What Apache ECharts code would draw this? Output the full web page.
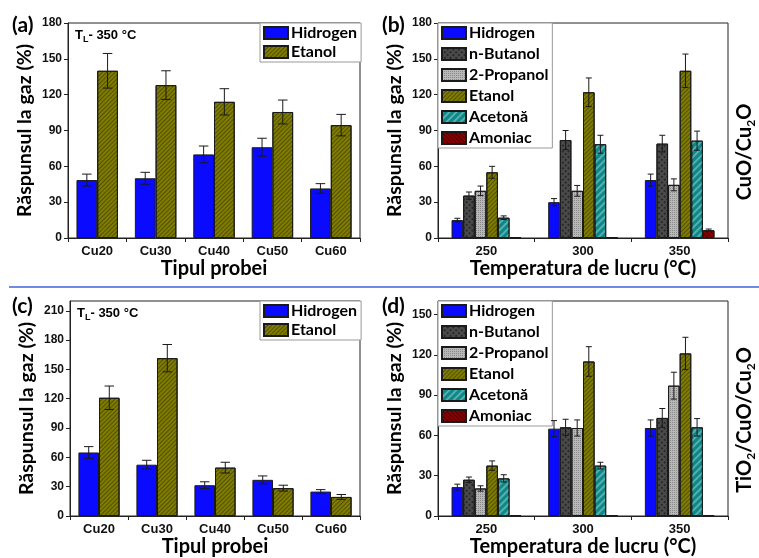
<!DOCTYPE html>
<html><head><meta charset="utf-8">
<script src="https://cdn.jsdelivr.net/npm/echarts@6/dist/echarts.min.js"></script>
<style>html,body{margin:0;padding:0;background:#fff}#c{width:759px;height:558px}</style>
</head><body><div id="c"></div>
<script>
// ---- categories ----
const samples = ['Cu20', 'Cu30', 'Cu40', 'Cu50', 'Cu60'];
const temps = ['250', '300', '350'];
const gasesAC = ['Hidrogen', 'Etanol'];
const gasesBD = ['Hidrogen', 'n-Butanol', '2-Propanol', 'Etanol', 'Acetonă', 'Amoniac'];

// ---- panel (a): CuO/Cu2O, T_L 350 °C ----
const aHidrogen = [48.5, 50, 70, 76, 41.5];
const aHidrogenErr = [5, 5, 7, 7.5, 4];
const aEtanol = [140, 128, 114, 105.5, 94.5];
const aEtanolErr = [14.5, 12, 11, 10, 9];

// ---- panel (b): CuO/Cu2O vs temperature ----
const bHidrogen = [15, 30, 48.5];
const bHidrogenErr = [1.5, 3, 5];
const bButanol = [35.5, 82, 79];
const bButanolErr = [3, 8, 7];
const bPropanol = [39.5, 39.5, 44.5];
const bPropanolErr = [4, 4.5, 5];
const bEtanol = [55, 122, 140];
const bEtanolErr = [5, 12, 14];
const bAcetona = [17, 78.5, 81.5];
const bAcetonaErr = [1.5, 7.5, 8];
const bAmoniac = [0.4, 0.4, 6.5];
const bAmoniacErr = [0, 0, 1];

// ---- panel (c): TiO2/CuO/Cu2O, T_L 350 °C ----
const cHidrogen = [65, 52.5, 31.5, 37, 25];
const cHidrogenErr = [6, 4.5, 3.5, 4, 2];
const cEtanol = [121, 161.5, 49.5, 28.5, 19.5];
const cEtanolErr = [12, 14, 5.5, 3, 2.5];

// ---- panel (d): TiO2/CuO/Cu2O vs temperature ----
const dHidrogen = [21.5, 65, 65.5];
const dHidrogenErr = [2.2, 6, 6];
const dButanol = [27, 66, 73];
const dButanolErr = [2, 6, 7];
const dPropanol = [20.5, 65.5, 97];
const dPropanolErr = [2, 6, 10];
const dEtanol = [37.5, 115, 121];
const dEtanolErr = [3.5, 11, 12];
const dAcetona = [28, 37.5, 66];
const dAcetonaErr = [2.7, 2.5, 6.5];
const dAmoniac = [0.6, 0.6, 0.6];
const dAmoniacErr = [0, 0, 0];

// ---- axis ranges ----
const yMaxA = 180, yMaxB = 180, yMaxC = 220, yMaxD = 160, yStep = 30;

const TF = 'Lato, "Open Sans", sans-serif';
const LF = '"Liberation Sans", Arial, sans-serif';

const styles = {
  'Hidrogen': { color: '#0a0aff' },
  'n-Butanol': { color: '#4a4a4a', decal: { symbol: 'rect', symbolSize: 1, dashArrayX: [2, 2], dashArrayY: [2, 2], rotation: Math.PI / 4, color: 'rgba(0,0,0,0.45)' } },
  '2-Propanol': { color: '#b8b8b8', decal: { symbol: 'rect', symbolSize: 1, dashArrayX: [1, 1], dashArrayY: [1, 1], color: 'rgba(0,0,0,0.25)' } },
  'Etanol': { color: '#7f7c00', decal: { symbol: 'rect', symbolSize: 1, dashArrayX: [1, 0], dashArrayY: [1, 2], rotation: -Math.PI / 4, color: 'rgba(0,0,0,0.35)' } },
  'Acetonă': { color: '#0e8787', decal: { symbol: 'rect', symbolSize: 1, dashArrayX: [1, 0], dashArrayY: [2, 3], rotation: -Math.PI / 4, color: 'rgba(190,235,235,0.4)' } },
  'Amoniac': { color: '#8a0000', decal: { symbol: 'rect', symbolSize: 1, dashArrayX: [1, 0], dashArrayY: [1, 2], rotation: Math.PI / 4, color: 'rgba(0,0,0,0.4)' } }
};

const grids = [
  { left: 68, top: 23, width: 292, height: 215 },
  { left: 438, top: 23, width: 290, height: 215 },
  { left: 70, top: 301, width: 290, height: 215 },
  { left: 438, top: 301, width: 290, height: 215 }
].map(g => Object.assign({ show: true, borderColor: '#222', borderWidth: 1, backgroundColor: 'transparent' }, g));

function xAxisFor(gi, cats, name) {
  return {
    type: 'category', gridIndex: gi, data: cats,
    axisLine: { lineStyle: { color: '#222', width: 1 } },
    axisTick: { show: true, length: 4, lineStyle: { color: '#222' } },
    axisLabel: { color: '#111', fontFamily: LF, fontWeight: 'bold', fontSize: 13, margin: 7 },
    name: name, nameLocation: 'middle', nameGap: 19,
    nameTextStyle: { color: '#000', fontFamily: TF, fontWeight: 'bold', fontSize: 20 }
  };
}
function yAxisFor(gi, max) {
  return {
    type: 'value', gridIndex: gi, min: 0, max: max, interval: yStep,
    axisLine: { show: true, lineStyle: { color: '#222', width: 1 } },
    axisTick: { show: true, length: 4, lineStyle: { color: '#222' } },
    splitLine: { show: false },
    axisLabel: { color: '#111', fontFamily: LF, fontWeight: 'bold', fontSize: 12, margin: 6, showMaxLabel: max % yStep === 0 },
    name: 'Răspunsul la gaz (%)', nameLocation: 'middle', nameGap: 33,
    nameTextStyle: { color: '#000', fontFamily: TF, fontWeight: 'bold', fontSize: 19.5 }
  };
}

const series = [];
function makeErr(k, n, gapRatio) {
  return function (params, api) {
    const xi = api.value(0), v = api.value(1), e = api.value(2);
    if (!e) return null;
    const band = api.size([1, 0])[0];
    const bw = band * (1 - gapRatio) / n;
    const c = api.coord([xi, v]);
    const x = c[0] + (k - (n - 1) / 2) * bw;
    const hi = api.coord([xi, v + e])[1];
    const lo = api.coord([xi, v - e])[1];
    const hw = Math.max(3, bw * 0.23);
    const st = { stroke: '#1a1a1a', lineWidth: 1 };
    return {
      type: 'group', children: [
        { type: 'line', shape: { x1: x, y1: hi, x2: x, y2: lo }, style: st },
        { type: 'line', shape: { x1: x - hw, y1: hi, x2: x + hw, y2: hi }, style: st },
        { type: 'line', shape: { x1: x - hw, y1: lo, x2: x + hw, y2: lo }, style: st }
      ]
    };
  };
}
function addPanel(gi, names, vals, errs, gapRatio) {
  const n = names.length;
  names.forEach((nm, k) => {
    series.push({
      type: 'bar', name: nm, xAxisIndex: gi, yAxisIndex: gi, data: vals[k],
      barGap: '0%', barCategoryGap: (gapRatio * 100) + '%',
      itemStyle: Object.assign({ borderColor: '#1a1a1a', borderWidth: 1 }, styles[nm]),
      emphasis: { disabled: true }, z: 2
    });
    series.push({
      type: 'custom', xAxisIndex: gi, yAxisIndex: gi,
      data: vals[k].map((v, i) => [i, v, errs[k][i]]),
      encode: { x: 0, y: 1 }, renderItem: makeErr(k, n, gapRatio), z: 5, silent: true
    });
  });
}
addPanel(0, gasesAC, [aHidrogen, aEtanol], [aHidrogenErr, aEtanolErr], 0.29);
addPanel(1, gasesBD, [bHidrogen, bButanol, bPropanol, bEtanol, bAcetona, bAmoniac],
  [bHidrogenErr, bButanolErr, bPropanolErr, bEtanolErr, bAcetonaErr, bAmoniacErr], 0.28);
addPanel(2, gasesAC, [cHidrogen, cEtanol], [cHidrogenErr, cEtanolErr], 0.29);
addPanel(3, gasesBD, [dHidrogen, dButanol, dPropanol, dEtanol, dAcetona, dAmoniac],
  [dHidrogenErr, dButanolErr, dPropanolErr, dEtanolErr, dAcetonaErr, dAmoniacErr], 0.28);

function legendFor(names, left, top, gap) {
  return {
    data: names, orient: 'vertical', left: left, top: top,
    itemWidth: 24, itemHeight: 12, itemGap: gap, padding: [2, 4, 2, 3],
    backgroundColor: '#fff', borderColor: '#999', borderWidth: 1, borderRadius: 0,
    selectedMode: false, icon: 'rect',
    textStyle: { color: '#000', fontFamily: TF, fontWeight: 'bold', fontSize: 16, padding: [0, 0, 0, -2] }
  };
}

const subRich = (size) => ({
  m: { fontFamily: TF, fontWeight: 'bold', fontSize: size, lineHeight: size + 2, verticalAlign: 'top', fill: '#000' },
  s: { fontFamily: TF, fontWeight: 'bold', fontSize: Math.round(size * 0.62), lineHeight: Math.round(size * 0.62), verticalAlign: 'bottom', padding: [Math.round(size * 0.6), 0, 0, 0], fill: '#000' }
});
const tlRich = {
  m: { fontFamily: LF, fontWeight: 'bold', fontSize: 13, lineHeight: 15, verticalAlign: 'top', fill: '#000' },
  s: { fontFamily: LF, fontWeight: 'bold', fontSize: 9, lineHeight: 9, verticalAlign: 'bottom', padding: [9, 0, 0, 0], fill: '#000' }
};

const panelLabel = (t, x, y) => ({ type: 'text', left: x, top: y, style: { text: t, fontFamily: TF, fontWeight: 'bold', fontSize: 21, fill: '#000' }, z: 10 });
const tlLabel = (x, y) => ({ type: 'text', left: x, top: y, style: { text: '{m|T}{s|L}{m|- 350 °C}', rich: tlRich }, z: 10 });

const option = {
  animation: false,
  backgroundColor: '#fff',
  grid: grids,
  xAxis: [xAxisFor(0, samples, 'Tipul probei'), xAxisFor(1, temps, 'Temperatura de lucru (°C)'),
          xAxisFor(2, samples, 'Tipul probei'), xAxisFor(3, temps, 'Temperatura de lucru (°C)')],
  yAxis: [yAxisFor(0, yMaxA), yAxisFor(1, yMaxB), yAxisFor(2, yMaxC), yAxisFor(3, yMaxD)],
  legend: [legendFor(gasesAC, 260, 23, 3), legendFor(gasesBD, 438, 23, 5),
           legendFor(gasesAC, 260, 301, 3), legendFor(gasesBD, 438, 301, 5)],
  series: series,
  graphic: [
    panelLabel('(a)', 12, 15), panelLabel('(b)', 382, 15),
    panelLabel('(c)', 12, 296), panelLabel('(d)', 382, 296),
    tlLabel(75, 26), tlLabel(77, 304),
    { type: 'line', shape: { x1: 9, y1: 287, x2: 759, y2: 287 }, style: { stroke: '#3f63dc', lineWidth: 1.5 }, z: 10 },
    { type: 'text', x: 746, y: 152, rotation: Math.PI / 2, style: { text: '{m|CuO/Cu}{s|2}{m|O}', rich: subRich(20), align: 'center', verticalAlign: 'middle' }, z: 10 },
    { type: 'text', x: 746, y: 420, rotation: Math.PI / 2, style: { text: '{m|TiO}{s|2}{m|/CuO/Cu}{s|2}{m|O}', rich: subRich(20), align: 'center', verticalAlign: 'middle' }, z: 10 }
  ]
};
const chart = echarts.init(document.getElementById('c'), null, { renderer: 'canvas' });
chart.setOption(option);
</script>
</body></html>
